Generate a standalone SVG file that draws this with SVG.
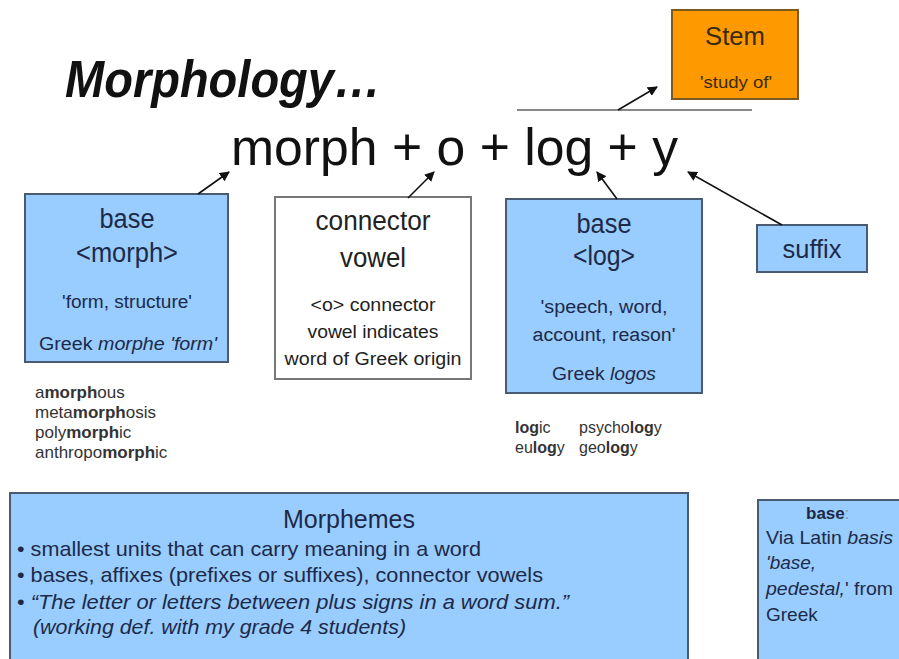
<svg xmlns="http://www.w3.org/2000/svg" width="899" height="659" viewBox="0 0 899 659">
  <defs>
    <marker id="head" viewBox="0 0 10 10" refX="9" refY="5" markerWidth="10" markerHeight="10" markerUnits="userSpaceOnUse" orient="auto">
      <path d="M0,0 L10,5 L0,10 Z" fill="#111"/>
    </marker>
    <style>
      text { font-family: "Liberation Sans", Arial, sans-serif; }
      .blue { fill: #99CCFF; stroke: #4A5A70; stroke-width: 2; }
      .ink { fill: #1C2A48; }
      .gray { fill: #333; }
      .mid { text-anchor: middle; }
      .conn line { stroke: #111; stroke-width: 1.6; marker-end: url(#head); }
    </style>
  </defs>
  <rect width="899" height="659" fill="#fff"/>

  <!-- heading and word sum -->
  <text x="65" y="97" font-size="52" font-weight="bold" font-style="italic" fill="#111" textLength="316" lengthAdjust="spacingAndGlyphs">Morphology…</text>
  <text x="231" y="165" font-size="52" fill="#111" textLength="447" lengthAdjust="spacingAndGlyphs">morph + o + log + y</text>

  <!-- stem bracket line -->
  <line x1="517" y1="110" x2="752" y2="110" stroke="#888" stroke-width="2"/>

  <g id="stem">
    <rect x="672" y="10" width="126" height="89" fill="#FF9900" stroke="#7A5A20" stroke-width="2"/>
    <text x="735" y="45" font-size="26" class="mid" fill="#3A2A10" textLength="60" lengthAdjust="spacingAndGlyphs">Stem</text>
    <text x="736" y="88" font-size="17" class="mid" fill="#3A2A10" textLength="72" lengthAdjust="spacingAndGlyphs">'study of'</text>
  </g>

  <g id="base-morph">
    <rect x="25" y="194" width="203" height="168" class="blue"/>
    <text x="127" y="228" font-size="27" class="mid ink" textLength="55" lengthAdjust="spacingAndGlyphs">base</text>
    <text x="127" y="262" font-size="27" class="mid ink" textLength="102" lengthAdjust="spacingAndGlyphs">&lt;morph&gt;</text>
    <text x="127" y="308" font-size="18" class="mid ink" textLength="130" lengthAdjust="spacingAndGlyphs">'form, structure'</text>
    <text x="128" y="350" font-size="18" class="mid ink" textLength="178" lengthAdjust="spacingAndGlyphs">Greek <tspan font-style="italic">morphe 'form'</tspan></text>
  </g>

  <g id="connector-vowel">
    <rect x="275" y="197" width="196" height="182" fill="#fff" stroke="#777" stroke-width="2"/>
    <text x="373" y="230" font-size="27" class="mid" fill="#222" textLength="115" lengthAdjust="spacingAndGlyphs">connector</text>
    <text x="373" y="267" font-size="27" class="mid" fill="#222" textLength="66" lengthAdjust="spacingAndGlyphs">vowel</text>
    <text x="373" y="311" font-size="18" class="mid" fill="#222" textLength="125" lengthAdjust="spacingAndGlyphs">&lt;o&gt; connector</text>
    <text x="373" y="338" font-size="18" class="mid" fill="#222" textLength="131" lengthAdjust="spacingAndGlyphs">vowel indicates</text>
    <text x="373" y="365" font-size="18" class="mid" fill="#222" textLength="177" lengthAdjust="spacingAndGlyphs">word of Greek origin</text>
  </g>

  <g id="base-log">
    <rect x="506" y="199" width="196" height="194" class="blue"/>
    <text x="604" y="233" font-size="27" class="mid ink" textLength="55" lengthAdjust="spacingAndGlyphs">base</text>
    <text x="604" y="265" font-size="27" class="mid ink" textLength="62" lengthAdjust="spacingAndGlyphs">&lt;log&gt;</text>
    <text x="604" y="313" font-size="18" class="mid ink" textLength="127" lengthAdjust="spacingAndGlyphs">'speech, word,</text>
    <text x="604" y="341" font-size="18" class="mid ink" textLength="143" lengthAdjust="spacingAndGlyphs">account, reason'</text>
    <text x="604" y="380" font-size="18" class="mid ink" textLength="104" lengthAdjust="spacingAndGlyphs">Greek <tspan font-style="italic">logos</tspan></text>
  </g>

  <g id="suffix">
    <rect x="757" y="225" width="110" height="47" class="blue"/>
    <text x="812" y="258" font-size="26" class="mid ink" textLength="59" lengthAdjust="spacingAndGlyphs">suffix</text>
  </g>

  <g id="morph-words" class="gray" font-size="17">
    <text x="35" y="398">a<tspan font-weight="bold">morph</tspan>ous</text>
    <text x="35" y="418">meta<tspan font-weight="bold">morph</tspan>osis</text>
    <text x="35" y="438">poly<tspan font-weight="bold">morph</tspan>ic</text>
    <text x="35" y="458">anthropo<tspan font-weight="bold">morph</tspan>ic</text>
  </g>

  <g id="log-words" class="gray" font-size="16">
    <text x="515" y="433"><tspan font-weight="bold">log</tspan>ic</text>
    <text x="579" y="433">psycho<tspan font-weight="bold">log</tspan>y</text>
    <text x="515" y="453">eu<tspan font-weight="bold">log</tspan>y</text>
    <text x="579" y="453">geo<tspan font-weight="bold">log</tspan>y</text>
  </g>

  <g id="morphemes">
    <rect x="10" y="493" width="678" height="190" class="blue"/>
    <text x="349" y="528" font-size="26" class="mid ink" textLength="132" lengthAdjust="spacingAndGlyphs">Morphemes</text>
    <text x="17" y="556" font-size="21" class="ink" textLength="464" lengthAdjust="spacingAndGlyphs">• smallest units that can carry meaning in a word</text>
    <text x="17" y="582" font-size="21" class="ink" textLength="526" lengthAdjust="spacingAndGlyphs">• bases, affixes (prefixes or suffixes), connector vowels</text>
    <text x="17" y="609" font-size="21" class="ink" textLength="552" lengthAdjust="spacingAndGlyphs">• <tspan font-style="italic">“The letter or letters between plus signs in a word sum.”</tspan></text>
    <text x="33" y="634" font-size="21" font-style="italic" class="ink" textLength="373" lengthAdjust="spacingAndGlyphs">(working def. with my grade 4 students)</text>
  </g>

  <g id="base-note">
    <rect x="758" y="500" width="170" height="190" class="blue"/>
    <text x="806" y="519" font-size="17" font-weight="bold" class="ink">base<tspan font-weight="normal" fill="#8899AA">:</tspan></text>
    <text x="766" y="544" font-size="19" class="ink" textLength="127" lengthAdjust="spacingAndGlyphs">Via Latin <tspan font-style="italic">basis</tspan></text>
    <text x="766" y="569" font-size="19" font-style="italic" class="ink">'base,</text>
    <text x="766" y="595" font-size="19" class="ink" textLength="127" lengthAdjust="spacingAndGlyphs"><tspan font-style="italic">pedestal,</tspan>' from</text>
    <text x="766" y="621" font-size="19" class="ink">Greek</text>
  </g>

  <g id="connectors" class="conn">
    <line x1="198" y1="194" x2="229" y2="172"/>
    <line x1="408" y1="198" x2="434" y2="172"/>
    <line x1="617" y1="199" x2="597" y2="172"/>
    <line x1="782" y1="225" x2="688" y2="172"/>
    <line x1="618" y1="110" x2="657" y2="87"/>
  </g>
</svg>
